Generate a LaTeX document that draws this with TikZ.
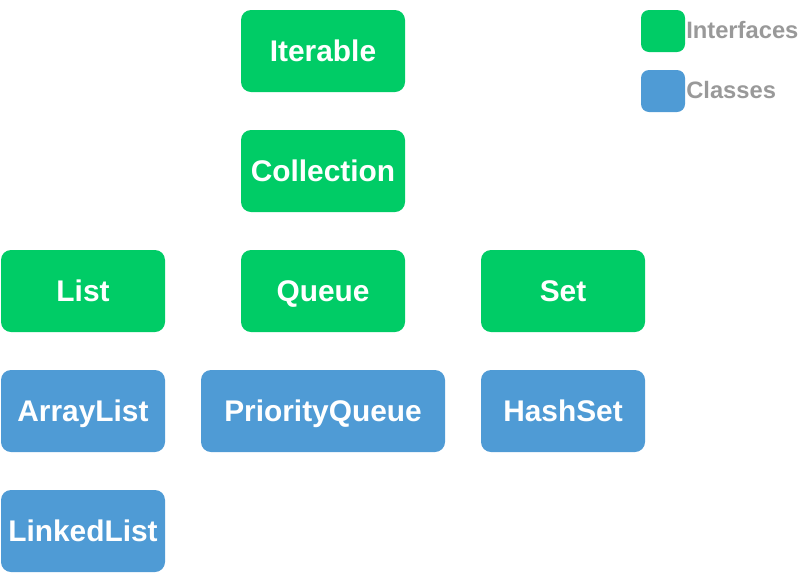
\documentclass[tikz,border=0pt]{standalone}
\usepackage{fontspec}
\setmainfont{Liberation Sans}
\usetikzlibrary{positioning}
\definecolor{ifacegreen}{RGB}{0,204,102}
\definecolor{classblue}{RGB}{79,155,213}
\definecolor{legendgray}{RGB}{153,153,153}
\tikzset{
  typebox/.style={rounded corners=7.5pt,minimum height=61.5pt,minimum width=123pt,inner sep=0pt,text height=16pt,text depth=0pt,text=white,font=\fontsize{22.4}{26}\selectfont\bfseries},
  ifacebox/.style={typebox,fill=ifacegreen},
  classbox/.style={typebox,fill=classblue},
  keybox/.style={rounded corners=6pt,minimum width=33pt,minimum height=31.5pt,inner sep=0pt},
  keylabel/.style={anchor=west,inner sep=0pt,text height=12.75pt,text depth=0pt,text=legendgray,font=\fontsize{17.8}{20}\selectfont\bfseries}
}
\newcommand{\ifacenode}[3]{\node[ifacebox] (#1) at #2 {#3};}
\newcommand{\classnode}[3]{\node[classbox] (#1) at #2 {#3};}

\begin{document}
\begin{tikzpicture}[x=0.75pt,y=-0.75pt]
		\useasboundingbox (0,0) rectangle (802,572);
		\ifacenode{iterable}{(323,51)}{Iterable} \ifacenode{collection}{(323,171)}{Collection}
		\ifacenode{list}{(83,291)}{List} \ifacenode{queue}{(323,291)}{Queue} \ifacenode{set}{(563,291)}{Set}
		\classnode{arraylist}{(83,411)}{ArrayList} \node[classbox,minimum width=183pt] (priorityqueue) at (323,411) {PriorityQueue}; \classnode{hashset}{(563,411)}{HashSet}
		\classnode{linkedlist}{(83,531)}{LinkedList}
		% legend
		\node[keybox,fill=ifacegreen] (ifacekey) at (663,31) {}; \node[keylabel] (ifacetag) at (686,30) {Interfaces};
		\node[keybox,fill=classblue] (classkey) at (663,91) {}; \node[keylabel] (classtag) at (686,90) {Classes};
\end{tikzpicture}
\end{document}
